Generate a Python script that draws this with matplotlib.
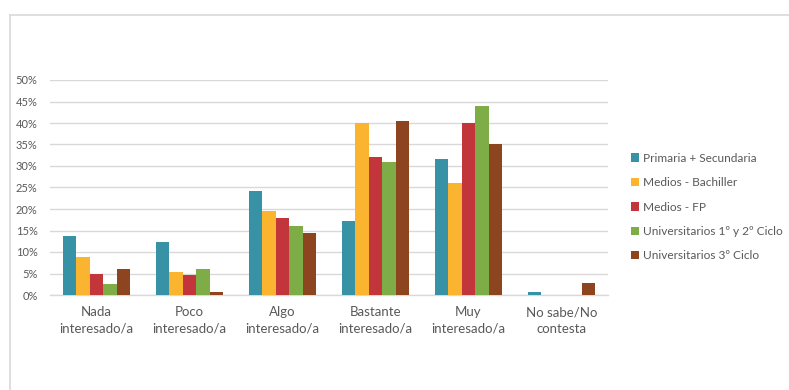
import matplotlib
matplotlib.use("Agg")
import matplotlib.pyplot as plt
from matplotlib.lines import Line2D
from matplotlib.ticker import FuncFormatter, MultipleLocator
import numpy as np

categories = ["Nada\ninteresado/a", "Poco\ninteresado/a", "Algo\ninteresado/a",
              "Bastante\ninteresado/a", "Muy\ninteresado/a", "No sabe/No\ncontesta"]
series_names = ["Primaria + Secundaria", "Medios - Bachiller", "Medios - FP",
                "Universitarios 1º y 2º Ciclo", "Universitarios 3º Ciclo"]
primaria = [13.7, 12.3, 24.1, 17.2, 31.7, 0.7]
bachiller = [8.8, 5.4, 19.6, 39.9, 26.1, 0.0]
fp = [5.0, 4.7, 17.9, 32.0, 40.1, 0.0]
univ12 = [2.6, 6.1, 16.1, 30.9, 43.9, 0.0]
univ3 = [6.1, 0.7, 14.4, 40.4, 35.2, 2.9]
colors = ["#3892A6", "#FBB430", "#C2363B", "#7EAC46", "#8D4520"]

series = [primaria, bachiller, fp, univ12, univ3]

plt.rcParams['font.family'] = ['Lato', 'DejaVu Sans']
fig = plt.figure(figsize=(7.89, 3.9), dpi=100)
ax = fig.add_axes([50/789, 1-295/390, (608-50)/789, (295-80)/390])

x = np.arange(len(categories))
bw = 0.146
for i, (vals, c, name) in enumerate(zip(series, colors, series_names)):
    ax.bar(x + (i - 2) * bw, np.array(vals) / 100, bw, color=c, label=name,
           edgecolor='none', zorder=3)

ax.set_xlim(-0.5, len(categories) - 0.5)
ax.set_ylim(0, 0.5)
ax.yaxis.set_major_locator(MultipleLocator(0.05))
ax.yaxis.set_major_formatter(FuncFormatter(lambda v, p: f"{v*100:.0f}%"))
ax.grid(axis='y', color='#D9D9D9', linewidth=1, zorder=0)
for s in ['top', 'right', 'left']:
    ax.spines[s].set_visible(False)
ax.spines['bottom'].set_color('#D9D9D9')
ax.spines['bottom'].set_linewidth(1)
ax.set_xticks(x)
ax.set_xticklabels(categories, fontsize=9.5, color='#595959', linespacing=1.45)
ax.tick_params(axis='x', length=0, pad=8)
ax.tick_params(axis='y', length=0, pad=9, labelsize=8, labelcolor='#595959')

leg = fig.legend(loc='upper left', bbox_to_anchor=(620/789, 1-142/390), frameon=False,
                 fontsize=8.6, labelcolor='#595959', handlelength=0.7, handleheight=0.7,
                 handletextpad=0.35, labelspacing=1.12)

fig.add_artist(Line2D([10/789, 1], [1-15/390, 1-15/390], color='#D9D9D9', linewidth=1.2))
fig.add_artist(Line2D([10/789, 10/789], [0, 1-15/390], color='#D9D9D9', linewidth=1.2))

fig.savefig("out.png", dpi=100)
